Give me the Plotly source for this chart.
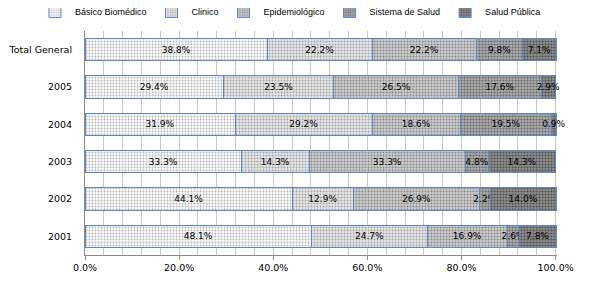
import plotly.graph_objects as go

categories = ["Total General", "2005", "2004", "2003", "2002", "2001"]
series_names = ["Básico Biomédico", "Clinico", "Epidemiológico", "Sistema de Salud", "Salud Pública"]
basico = [38.8, 29.4, 31.9, 33.3, 44.1, 48.1]
clinico = [22.2, 23.5, 29.2, 14.3, 12.9, 24.7]
epidemiologico = [22.2, 26.5, 18.6, 33.3, 26.9, 16.9]
sistema = [9.8, 17.6, 19.5, 4.8, 2.2, 2.6]
salud_publica = [7.1, 2.9, 0.9, 14.3, 14.0, 7.8]
tick_vals = [0, 20, 40, 60, 80, 100]
tick_text = ["0.0%", "20.0%", "40.0%", "60.0%", "80.0%", "100.0%"]

series_values = [basico, clinico, epidemiologico, sistema, salud_publica]
styles = [
    dict(bg="#fafafa", fg="#b8b8b8", sol=0.3),
    dict(bg="#e6e6e6", fg="#a6a6a6", sol=0.35),
    dict(bg="#cccccc", fg="#8a8a8a", sol=0.35),
    dict(bg="#adadad", fg="#6a6a6a", sol=0.4),
    dict(bg="#8e8e8e", fg="#505050", sol=0.4),
]

fig = go.Figure()
for name, vals, st in zip(series_names, series_values, styles):
    fig.add_trace(go.Bar(
        y=categories, x=vals, name=name, orientation="h",
        marker=dict(
            color=st["bg"],
            line=dict(color="#5b87c6", width=1),
            pattern=dict(shape=".", fgcolor=st["fg"], bgcolor=st["bg"],
                         size=3, solidity=st["sol"], fillmode="replace"),
        ),
        text=[f"{v:.1f}%" for v in vals],
        textposition="inside", insidetextanchor="middle", textangle=0,
        textfont=dict(family="DejaVu Sans", size=9, color="#000000"),
        cliponaxis=False,
    ))

# page body has an 8px margin; figure sized to fit the 592x293 window
fig.update_layout(
    barmode="stack",
    bargap=0.4,
    width=584, height=285,
    margin=dict(l=77, r=35, t=23, b=38, autoexpand=False),
    paper_bgcolor="#ffffff", plot_bgcolor="#ffffff",
    font=dict(family="DejaVu Sans", size=9, color="#000000"),
    uniformtext=dict(minsize=9, mode="show"),
    legend=dict(orientation="h", xref="paper", yref="paper",
                x=-0.106, xanchor="left", y=1.152, yanchor="top",
                font=dict(family="Liberation Sans", size=9), itemwidth=30,
                tracegroupgap=0, traceorder="normal", bgcolor="rgba(0,0,0,0)"),
    showlegend=True,
)
fig.update_xaxes(
    range=[0, 100.3], tickvals=tick_vals, ticktext=tick_text,
    showgrid=False, zeroline=False, automargin=False,
    showline=True, linecolor="#8c8c8c", linewidth=1,
    ticks="outside", ticklen=4, tickcolor="#8c8c8c",
    minor=dict(dtick=4, showgrid=True, gridcolor="#c8c8c8", gridwidth=1),
    tickfont=dict(size=9.5),
)
fig.update_yaxes(
    categoryorder="array", categoryarray=categories[::-1],
    showline=True, linecolor="#8c8c8c", linewidth=1, automargin=False,
    showgrid=False, ticks="", ticklen=0, ticklabelstandoff=10,
    tickfont=dict(size=9.5),
)

fig.write_html("out.html")
